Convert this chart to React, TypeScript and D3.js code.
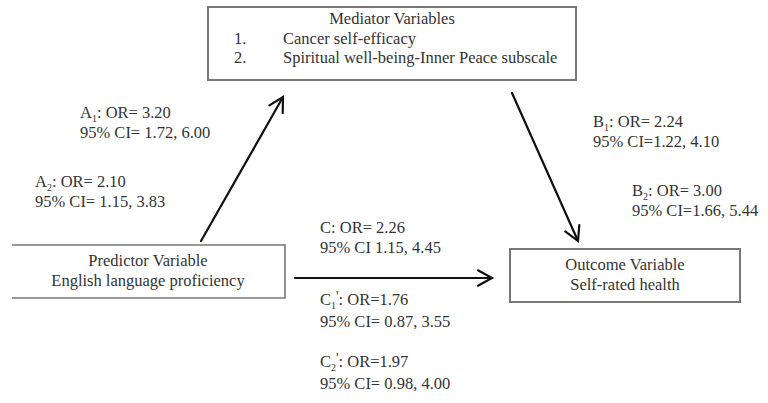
import React from "react";
import * as d3 from "d3";

const W = 768;
const H = 403;

// Boxes (node labels)
const mediatorTitle = "Mediator Variables";
const mediatorItems = ["Cancer self-efficacy", "Spiritual well-being-Inner Peace subscale"];
const predictorLines = ["Predictor Variable", "English language proficiency"];
const outcomeLines = ["Outcome Variable", "Self-rated health"];

// Path labels
const aLabels = [
  { l: "A", sub: "1", prime: "", rest: ": OR= 3.20", ci: "95% CI= 1.72, 6.00" },
  { l: "A", sub: "2", prime: "", rest: ": OR= 2.10", ci: "95% CI= 1.15, 3.83" },
];
const bLabels = [
  { l: "B", sub: "1", prime: "", rest: ": OR= 2.24", ci: "95% CI=1.22, 4.10" },
  { l: "B", sub: "2", prime: "", rest: ": OR= 3.00", ci: "95% CI=1.66, 5.44" },
];
const cLabels = [
  { l: "C", sub: "", prime: "", rest: ": OR= 2.26", ci: "95% CI 1.15, 4.45" },
  { l: "C", sub: "1", prime: "'", rest: ": OR=1.76", ci: "95% CI= 0.87, 3.55" },
  { l: "C", sub: "2", prime: "'", rest: ": OR=1.97", ci: "95% CI= 0.98, 4.00" },
];

const FONT = "Liberation Serif, DejaVu Serif, Times New Roman, serif";
const TEXT = "#333";
const BOX = "#777";
const FS = 16.5;

function Label({ x, y, d, gap = 20 }: { x: number; y: number; d: any; gap?: number }) {
  return (
    <g>
      <text x={x} y={y} style={{ fontFamily: FONT, fontSize: FS }} fill={TEXT}>
        {d.l}
        {d.sub ? (
          <tspan style={{ fontSize: 10 }} dy={4}>{d.sub}</tspan>
        ) : null}
        {d.prime ? (
          <tspan style={{ fontSize: 14 }} dy={d.sub ? -8 : 0}>{d.prime}</tspan>
        ) : null}
        <tspan dy={d.sub ? (d.prime ? 4 : -4) : 0}>{d.rest}</tspan>
      </text>
      <text x={x} y={y + gap} style={{ fontFamily: FONT, fontSize: FS }} fill={TEXT}>
        {d.ci}
      </text>
    </g>
  );
}

function Arrow({ x1, y1, x2, y2 }: { x1: number; y1: number; x2: number; y2: number }) {
  const line = d3.line();
  const ang = Math.atan2(y2 - y1, x2 - x1);
  const len = 16;
  const spread = 0.5;
  const p1: [number, number] = [x2 - len * Math.cos(ang - spread), y2 - len * Math.sin(ang - spread)];
  const p2: [number, number] = [x2 - len * Math.cos(ang + spread), y2 - len * Math.sin(ang + spread)];
  return (
    <g fill="none" stroke="#111" strokeWidth={2.2} strokeLinecap="round" strokeLinejoin="miter">
      <path d={line([[x1, y1], [x2, y2]]) || ""} />
      <path d={line([p1, [x2, y2], p2]) || ""} />
    </g>
  );
}

export default function App() {
  const med = { x: 208, y: 7, w: 368, h: 73 };
  const pred = { x: 12, y: 245, w: 273, h: 53 };
  const out = { x: 510, y: 249, w: 230, h: 53 };
  const ts = { fontFamily: FONT, fontSize: FS };
  return (
    <svg
      width={W}
      height={H}
      style={{ position: "absolute", left: 0, top: 0, background: "#fff" }}
    >
      <rect width={W} height={H} fill="#fff" />
      {/* Mediator box */}
      <rect x={med.x} y={med.y} width={med.w} height={med.h} fill="none" stroke={BOX} strokeWidth={2} />
      <text x={med.x + med.w / 2} y={24} textAnchor="middle" style={ts} fill={TEXT}>
        {mediatorTitle}
      </text>
      {mediatorItems.map((t, i) => (
        <g key={t}>
          <text x={234} y={44 + i * 19} style={ts} fill={TEXT}>{`${i + 1}.`}</text>
          <text x={283} y={44 + i * 19} style={ts} fill={TEXT}>{t}</text>
        </g>
      ))}

      {/* Predictor box (left edge open) */}
      <path
        d={`M${pred.x},${pred.y}H${pred.x + pred.w}V${pred.y + pred.h}H${pred.x}`}
        fill="none"
        stroke={BOX}
        strokeWidth={1.6}
      />
      {predictorLines.map((t, i) => (
        <text key={t} x={148} y={266 + i * 20} textAnchor="middle" style={ts} fill={TEXT}>
          {t}
        </text>
      ))}

      {/* Outcome box */}
      <rect x={out.x} y={out.y} width={out.w} height={out.h} fill="none" stroke={BOX} strokeWidth={2} />
      {outcomeLines.map((t, i) => (
        <text key={t} x={out.x + out.w / 2} y={270 + i * 20} textAnchor="middle" style={ts} fill={TEXT}>
          {t}
        </text>
      ))}

      {/* Arrows */}
      <Arrow x1={201} y1={241} x2={283} y2={97} />
      <Arrow x1={512} y1={93} x2={578} y2={241} />
      <Arrow x1={295} y1={278} x2={492} y2={278} />

      {/* Labels */}
      <Label x={80} y={118} d={aLabels[0]} />
      <Label x={35} y={187} d={aLabels[1]} />
      <Label x={593} y={127} d={bLabels[0]} />
      <Label x={632} y={196} d={bLabels[1]} />
      <Label x={320} y={233} d={cLabels[0]} />
      <Label x={320} y={305} d={cLabels[1]} gap={22} />
      <Label x={320} y={367} d={cLabels[2]} gap={22} />
    </svg>
  );
}
